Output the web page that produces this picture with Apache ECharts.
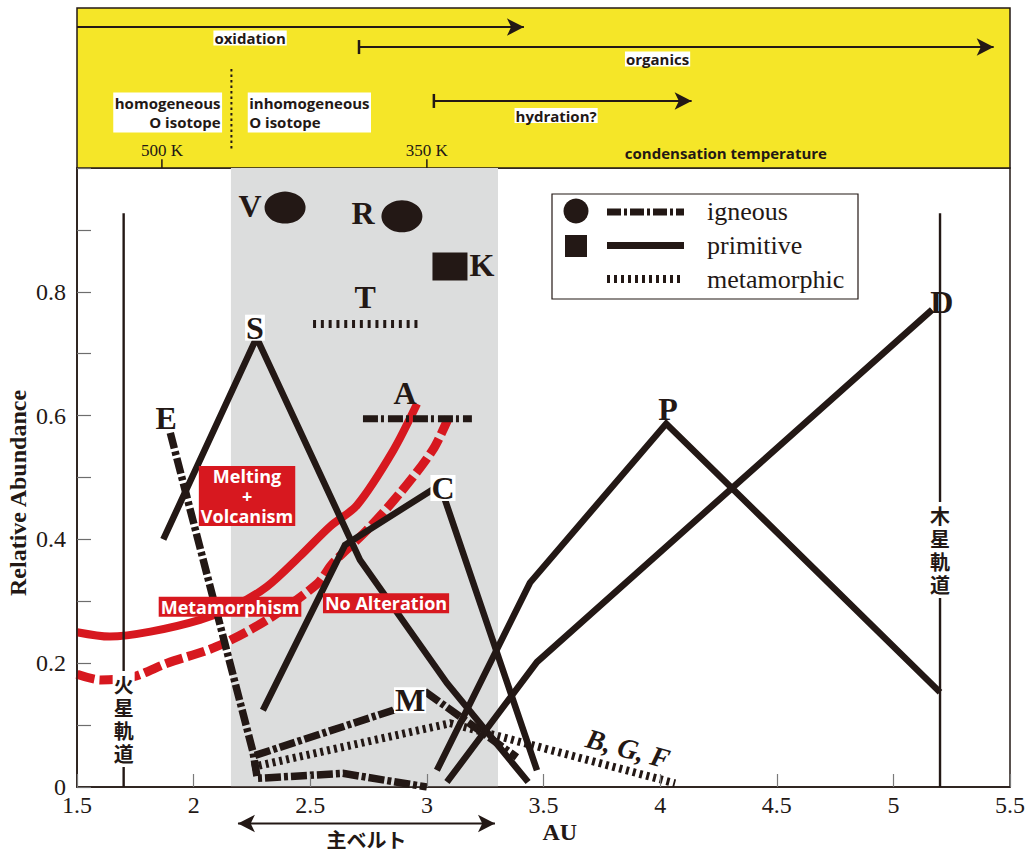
<!DOCTYPE html>
<html><head><meta charset="utf-8">
<script src="https://cdn.jsdelivr.net/npm/echarts@6/dist/echarts.min.js"></script>
<style>html,body{margin:0;padding:0;background:#fff}#c{width:1034px;height:853px}</style>
</head><body><div id="c"></div>
<script>
const INK = '#231815';
const RED = '#D7181F';
const YELLOW = '#F5E628';
const GRAY = '#DCDDDD';

// axes
const xMin = 1.5, xMax = 5.5, xStep = 0.5;
const yMin = 0, yMax = 1, yStep = 0.1;
const yLabelValues = [0, 0.2, 0.4, 0.6, 0.8];

// main belt band and orbits
const mainBeltBand = [2.16, 3.305];
const marsOrbit = 1.70, jupiterOrbit = 5.2, orbitTop = 0.927;
const mainBeltArrow = [2.19, 3.292], mainBeltArrowY = -0.059;

// primitive (solid)
const primitiveS = [[1.87,0.40],[2.27,0.726],[2.713,0.367],[3.086,0.168],[3.434,0.008]];
const primitiveC = [[2.297,0.124],[2.649,0.391],[3.056,0.488],[3.472,0.027]];
const primitiveP = [[3.043,0.027],[3.442,0.33],[4.026,0.587],[5.2,0.153]];
const primitiveD = [[3.086,0.008],[3.472,0.202],[5.166,0.771]];
// igneous (dash-dot)
const igneousE = [[1.90,0.572],[2.255,0.056],[2.273,0.014],[2.64,0.022],[3.0,0.0]];
const igneousM = [[2.263,0.051],[2.855,0.124],[3.0,0.152],[3.386,0.048]];
const igneousA = [[2.726,0.595],[3.193,0.595]];
// metamorphic (dotted)
const metamorphicBGF = [[2.25,0.032],[3.10,0.103],[4.064,0.006]];
const metamorphicT = [[2.512,0.748],[2.979,0.748]];
// single-point classes
const igneousPoints = [[2.392,0.936],[2.893,0.922]];   // V, R
const primitivePoints = [[3.099,0.841]];               // K
// red curves
const redMelting = [[1.5,0.25],[1.641,0.243],[1.815,0.251],[2.027,0.270],[2.169,0.291],[2.315,0.324],[2.456,0.373],[2.585,0.421],[2.70,0.455],[2.855,0.543],[2.958,0.619]];
const redNoAlteration = [[1.5,0.182],[1.60,0.173],[1.74,0.178],[1.886,0.200],[2.10,0.227],[2.315,0.270],[2.529,0.328],[2.598,0.362],[2.743,0.415],[2.885,0.475],[3.026,0.545],[3.099,0.602]];

// labels [text, x, y]
const letterLabels = [['V',2.242,0.938],['R',2.726,0.928],['K',3.236,0.843],['T',2.735,0.791],['S',2.263,0.742],['E',1.882,0.596],['A',2.906,0.637],['C',3.069,0.483],['M',2.928,0.140],['P',4.034,0.610],['D',5.208,0.784]];
const boxedLetters = ['S','C','M'];
const redLabels = [['Melting\n+\nVolcanism',2.229,0.470],['Metamorphism',2.156,0.291],['No Alteration',2.825,0.297]];
const marsLabel = ['火','星','軌','道'], marsLabelY = 0.110;
const jupiterLabel = ['木','星','軌','道'], jupiterLabelY = 0.383;

// top (yellow) panel, y in 0..1 of panel
const oxidationArrow = [1.5, 3.416, 0.881];
const organicsArrow = [2.709, 5.43, 0.756];
const hydrationArrow = [3.03, 4.135, 0.419];
const isotopeDivider = [2.162, 0.619, 0.1125];
const tempTicks = [[1.864,'500 K'],[3.0,'350 K']];
const topLabels = [['oxidation',2.242,0.8125],['organics',3.989,0.681],['hydration?',3.554,0.328]];

const chart = echarts.init(document.getElementById('c'), null, {renderer:'svg', width:1034, height:853});
const GRID_W = 1034 - 77 - 24;

function ln(data, style, extra) {
  return Object.assign({type:'line', xAxisIndex:0, yAxisIndex:0, data, symbol:'none', silent:true, animation:false, z:3,
    lineStyle:Object.assign({color:INK, cap:'butt', join:'miter', miterLimit:10}, style)}, extra || {});
}
function arrowLine(x0, x1, y, startBar) {
  return {type:'line', xAxisIndex:1, yAxisIndex:1, silent:true, animation:false, z:5, showSymbol:true,
    lineStyle:{color:INK, width:2}, itemStyle:{color:INK, opacity:1},
    data:[ startBar ? {value:[x0,y], symbol:'rect', symbolSize:[2.5,14]} : {value:[x0,y], symbol:'none'},
           {value:[x1, y], symbol:'arrow', symbolSize:[13,17], symbolRotate:-90} ]};
}
const IGN = [16,3,4,3], MET = [3,4];

const option = {
  animation:false,
  grid:[
    {left:77, right:24, top:168, bottom:66, show:true, backgroundColor:'#fff', borderColor:INK, borderWidth:1.5, z:0},
    {left:77, right:24, top:8, height:160, show:true, backgroundColor:YELLOW, borderColor:INK, borderWidth:1.5, z:0}
  ],
  xAxis:[
    {gridIndex:0, type:'value', min:xMin, max:xMax, interval:xStep, z:4,
      axisLine:{lineStyle:{color:INK, width:1.5}},
      axisTick:{inside:true, length:13, lineStyle:{color:'#7a7a7a', width:1.2}},
      axisLabel:{margin:6, color:INK, fontFamily:'Liberation Serif', fontSize:24},
      splitLine:{show:false}},
    {gridIndex:1, type:'value', min:xMin, max:xMax, show:false}
  ],
  yAxis:[
    {gridIndex:0, type:'value', min:yMin, max:yMax, interval:yStep, z:4,
      axisLine:{lineStyle:{color:INK, width:1.5}},
      axisTick:{inside:true, length:14, lineStyle:{color:'#6d6d6d', width:1.2}},
      axisLabel:{margin:11, color:INK, fontFamily:'Liberation Serif', fontSize:24,
        formatter:v => yLabelValues.some(t => Math.abs(t - v) < 1e-6) ? String(Math.round(v*10)/10) : ''},
      splitLine:{show:false}},
    {gridIndex:1, type:'value', min:0, max:1, show:false}
  ],
  series:[
    {type:'line', xAxisIndex:0, yAxisIndex:0, data:[], silent:true, z:1,
      markArea:{silent:true, itemStyle:{color:GRAY, opacity:1}, data:[[{coord:[mainBeltBand[0], yMin]},{coord:[mainBeltBand[1], yMax]}]]}},
    ln([[marsOrbit,0],[marsOrbit,orbitTop]], {width:2.4}),
    ln([[jupiterOrbit,0],[jupiterOrbit,orbitTop]], {width:2.4}),
    ln(redMelting, {color:RED, width:8}, {smooth:0.3, z:2}),
    ln(redNoAlteration, {color:RED, width:9, type:[18,5]}, {smooth:0.3, z:2}),
    ln(primitiveS, {width:6.5}),
    ln(primitiveC, {width:6.5}),
    ln(primitiveP, {width:6.5}),
    ln(primitiveD, {width:6.5}),
    ln(igneousE, {width:7.5, type:IGN}),
    ln(igneousM, {width:7.5, type:IGN}),
    ln(igneousA, {width:7, type:[15,3,3,4]}),
    ln(metamorphicBGF, {width:8, type:MET}),
    ln(metamorphicT, {width:8, type:[3,4.8]}),
    {type:'scatter', xAxisIndex:0, yAxisIndex:0, data:igneousPoints, symbol:'circle', symbolSize:[41,32], itemStyle:{color:INK, opacity:1}, silent:true, z:3},
    {type:'scatter', xAxisIndex:0, yAxisIndex:0, data:primitivePoints, symbol:'rect', symbolSize:[35,28], itemStyle:{color:INK, opacity:1}, silent:true, z:3},
    {type:'line', xAxisIndex:0, yAxisIndex:0, clip:false, silent:true, z:5, showSymbol:true,
      lineStyle:{color:INK, width:2}, itemStyle:{color:INK, opacity:1},
      data:[{value:[mainBeltArrow[0], mainBeltArrowY], symbol:'arrow', symbolSize:[13,17], symbolRotate:90},
            {value:[mainBeltArrow[1], mainBeltArrowY], symbol:'arrow', symbolSize:[13,17], symbolRotate:-90}]},
    arrowLine(oxidationArrow[0], oxidationArrow[1], oxidationArrow[2], false),
    arrowLine(organicsArrow[0], organicsArrow[1], organicsArrow[2], true),
    arrowLine(hydrationArrow[0], hydrationArrow[1], hydrationArrow[2], true),
    {type:'line', xAxisIndex:1, yAxisIndex:1, symbol:'none', silent:true, z:5,
      data:[[isotopeDivider[0], isotopeDivider[1]],[isotopeDivider[0], isotopeDivider[2]]],
      lineStyle:{color:INK, width:2, type:[2.5,3]}},
    ...tempTicks.map(t => ({type:'line', xAxisIndex:1, yAxisIndex:1, symbol:'none', silent:true, z:5,
      data:[[t[0],0],[t[0],0.055]], lineStyle:{color:INK, width:1.5}}))
  ]
};
chart.setOption(option);

const P = (x, y, g) => chart.convertToPixel({gridIndex:g || 0}, [x, y]);
const els = [];
function txt(x, y, g, text, style, extra) {
  const p = P(x, y, g);
  els.push(Object.assign({type:'text', x:p[0], y:p[1], z:100, silent:true,
    style:Object.assign({text, fill:INK, align:'center', textAlign:'center', verticalAlign:'middle', textVerticalAlign:'middle'}, style)}, extra || {}));
}
const SERIF = '"Liberation Serif", serif';
const SANS = '"Open Sans", sans-serif';
const CJK = '"Noto Sans CJK JP", sans-serif';

letterLabels.forEach(l => {
  const st = {font:'bold 32px ' + SERIF};
  if (boxedLetters.includes(l[0])) Object.assign(st, {backgroundColor:'#fff', padding:[0,1], lineHeight:26});
  txt(l[1], l[2], 0, l[0], st);
});
redLabels.forEach(l => txt(l[1], l[2], 0, l[0], {font:'bold 18px ' + SANS, fill:'#fff', backgroundColor:RED, lineHeight:20, padding:[0,2]}));
txt(3.862, 0.062, 0, 'B, G, F', {font:'italic bold 28px ' + SERIF}, {rotation:-15*Math.PI/180});

// vertical CJK orbit labels, one character per text, on a white strip
function verticalLabel(chars, xv, yv) {
  const c = P(xv, yv, 0), pitch = 23, n = chars.length;
  els.push({type:'rect', z:99, silent:true, shape:{x:c[0]-11, y:c[1]-pitch*n/2-2, width:22, height:pitch*n+4}, style:{fill:'#fff'}});
  chars.forEach((ch, i) => els.push({type:'text', z:100, silent:true, x:c[0], y:c[1] + (i - (n-1)/2)*pitch,
    style:{text:ch, font:'bold 20px ' + CJK, fill:INK, align:'center', textAlign:'center', verticalAlign:'middle', textVerticalAlign:'middle', lineHeight:20}}));
}
verticalLabel(marsLabel, marsOrbit, marsLabelY);
verticalLabel(jupiterLabel, jupiterOrbit, jupiterLabelY);

txt((mainBeltArrow[0]+mainBeltArrow[1])/2, -0.085, 0, '主ベルト', {font:'bold 20px ' + CJK, lineHeight:20});
txt(3.57, -0.073, 0, 'AU', {font:'bold 24px ' + SERIF});
txt(1.5 - 59*(xMax-xMin)/GRID_W, 0.475, 0, 'Relative Abundance', {font:'bold 24px ' + SERIF}, {rotation:Math.PI/2});

// top panel texts
topLabels.forEach(l => txt(l[1], l[2], 1, l[0], {font:'bold 15px ' + SANS, backgroundColor:'#fff', lineHeight:15, padding:[0,1]}));
txt(2.122, 0.347, 1, 'homogeneous\nO isotope', {font:'bold 15px ' + SANS, backgroundColor:'#fff', lineHeight:19, padding:[1,1.5], align:'right', textAlign:'right'});
txt(2.232, 0.347, 1, 'inhomogeneous\nO isotope', {font:'bold 15px ' + SANS, backgroundColor:'#fff', lineHeight:19, padding:[1,1.5], align:'left', textAlign:'left'});
txt(4.282, 0.094, 1, 'condensation temperature', {font:'bold 15px ' + SANS});
tempTicks.forEach(t => txt(t[0], 0.11, 1, t[1], {font:'17px ' + SERIF}));

// legend
els.push({type:'rect', z:90, silent:true, shape:{x:552, y:194, width:306, height:105}, style:{fill:'#fff', stroke:INK, lineWidth:1.2}});
els.push({type:'circle', z:91, silent:true, shape:{cx:576, cy:211, r:12.5}, style:{fill:INK}});
els.push({type:'rect', z:91, silent:true, shape:{x:565, y:235, width:22, height:22}, style:{fill:INK}});
els.push({type:'line', z:91, silent:true, shape:{x1:607, y1:212, x2:684, y2:212}, style:{stroke:INK, lineWidth:7, lineDash:[14,3,3,3]}});
els.push({type:'line', z:91, silent:true, shape:{x1:607, y1:245.5, x2:684, y2:245.5}, style:{stroke:INK, lineWidth:7}});
els.push({type:'line', z:91, silent:true, shape:{x1:607, y1:279, x2:684, y2:279}, style:{stroke:INK, lineWidth:8, lineDash:[3,4]}});
[['igneous',211],['primitive',245],['metamorphic',279]].forEach(t => els.push({type:'text', z:92, silent:true, x:707, y:t[1],
  style:{text:t[0], font:'26px ' + SERIF, fill:INK, align:'left', textAlign:'left', verticalAlign:'middle', textVerticalAlign:'middle'}}));

chart.setOption({graphic:{elements:els}});
</script></body></html>
